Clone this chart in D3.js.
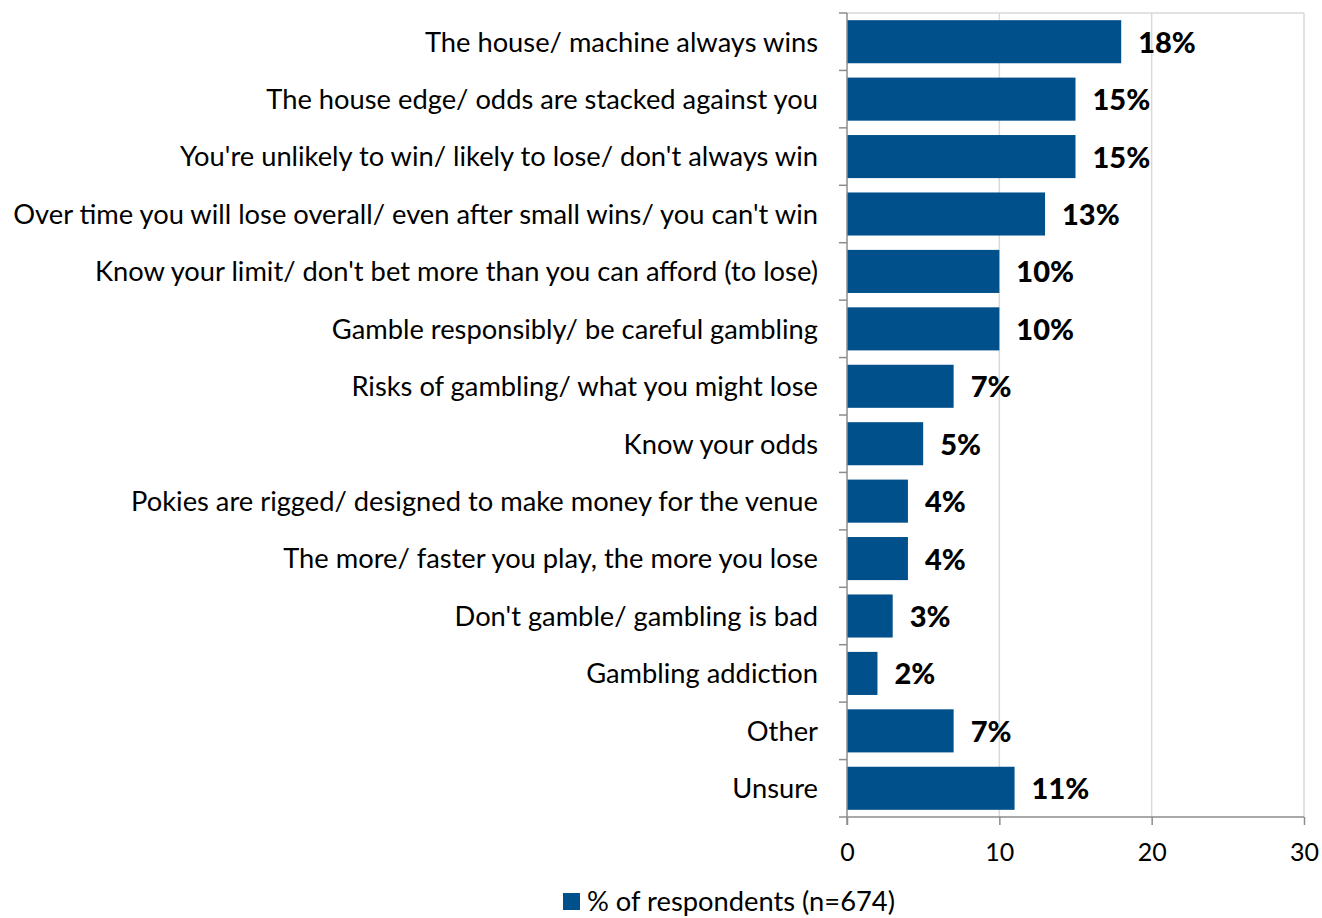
<!DOCTYPE html>
<html>
<head>
<meta charset="utf-8">
<script src="https://cdn.jsdelivr.net/npm/d3@7"></script>
<style>
  html, body { margin: 0; padding: 0; background: #fff; }
  svg { display: block; }
  text { font-family: Lato, "Open Sans", sans-serif; fill: #000; }
</style>
</head>
<body>
<svg id="chart" width="1322" height="918"></svg>
<script>
const categories = [
  "The house/ machine always wins",
  "The house edge/ odds are stacked against you",
  "You're unlikely to win/ likely to lose/ don't always win",
  "Over time you will lose overall/ even after small wins/ you can't win",
  "Know your limit/ don't bet more than you can afford (to lose)",
  "Gamble responsibly/ be careful gambling",
  "Risks of gambling/ what you might lose",
  "Know your odds",
  "Pokies are rigged/ designed to make money for the venue",
  "The more/ faster you play, the more you lose",
  "Don't gamble/ gambling is bad",
  "Gambling addiction",
  "Other",
  "Unsure"
];
const values = [18, 15, 15, 13, 10, 10, 7, 5, 4, 4, 3, 2, 7, 11];
const xTicks = [0, 10, 20, 30];
const seriesName = "% of respondents (n=674)";

const barColor = "#00508B";
const gridColor = "#D9D9D9";
const axisColor = "#8C8C8C";

const svg = d3.select("#chart");
const plot = { left: 847, right: 1304, top: 13, bottom: 817 };

const x = d3.scaleLinear().domain([0, 30]).range([plot.left, plot.right]);
const y = d3.scaleBand().domain(categories).range([plot.top, plot.bottom]).paddingInner(0.25).paddingOuter(0.125);

// vertical gridlines
svg.append("g").selectAll("line").data(xTicks.filter(d => d > 0)).join("line")
  .attr("x1", d => x(d)).attr("x2", d => x(d))
  .attr("y1", plot.top).attr("y2", plot.bottom)
  .attr("stroke", gridColor).attr("stroke-width", 1.5);
// top border
svg.append("line")
  .attr("x1", plot.left).attr("x2", plot.right)
  .attr("y1", plot.top).attr("y2", plot.top)
  .attr("stroke", gridColor).attr("stroke-width", 1.5);

// bars
svg.append("g").selectAll("rect").data(values).join("rect")
  .attr("x", x(0))
  .attr("y", (d, i) => y(categories[i]))
  .attr("width", d => x(d) - x(0))
  .attr("height", y.bandwidth())
  .attr("fill", barColor);

// value labels
svg.append("g").selectAll("text").data(values).join("text")
  .attr("x", d => x(d) + 17)
  .attr("y", (d, i) => y(categories[i]) + y.bandwidth() / 2)
  .attr("dy", "0.38em")
  .attr("font-size", 29)
  .attr("font-weight", 900)
  .text(d => d + "%");

// bottom axis
const xAxis = d3.axisBottom(x).tickValues(xTicks).tickSize(8).tickPadding(18).tickFormat(d3.format("d"));
const gx = svg.append("g").attr("transform", `translate(0,${plot.bottom})`).call(xAxis);
gx.select(".domain").attr("stroke", axisColor).attr("stroke-width", 1.5).attr("d", `M${plot.left - 8},0H${plot.right}`);
gx.selectAll(".tick line").attr("stroke", axisColor).attr("stroke-width", 1.5);
gx.selectAll(".tick text").attr("font-size", 25).attr("font-family", "Lato, 'Open Sans', sans-serif").attr("fill", "#000");

// left axis: ticks at category boundaries
const boundaries = d3.range(categories.length + 1).map(i => plot.top + i * (plot.bottom - plot.top) / categories.length);
svg.append("line")
  .attr("x1", plot.left).attr("x2", plot.left)
  .attr("y1", plot.top).attr("y2", plot.bottom + 8)
  .attr("stroke", axisColor).attr("stroke-width", 1.5);
svg.append("g").selectAll("line").data(boundaries.slice(0, -1)).join("line")
  .attr("x1", plot.left - 8).attr("x2", plot.left)
  .attr("y1", d => d).attr("y2", d => d)
  .attr("stroke", axisColor).attr("stroke-width", 1.5);

// category labels
const labels = svg.append("g").selectAll("text").data(categories).join("text")
  .attr("x", 818)
  .attr("y", d => y(d) + y.bandwidth() / 2)
  .attr("dy", "0.36em")
  .attr("text-anchor", "end")
  .attr("font-size", 24)
  .text(d => d);
// fit the longest label into the space left of the axis
let maxW = 0;
labels.each(function () { maxW = Math.max(maxW, this.getComputedTextLength()); });
const fitSize = 24 * 805 / maxW;
labels.attr("font-size", fitSize);

// legend
const legend = svg.append("g").attr("transform", "translate(563,893)");
legend.append("rect").attr("width", 17).attr("height", 17).attr("fill", barColor);
legend.append("text").attr("x", 24).attr("y", 8.5).attr("dy", "0.36em")
  .attr("font-size", fitSize).text(seriesName);
</script>
</body>
</html>
